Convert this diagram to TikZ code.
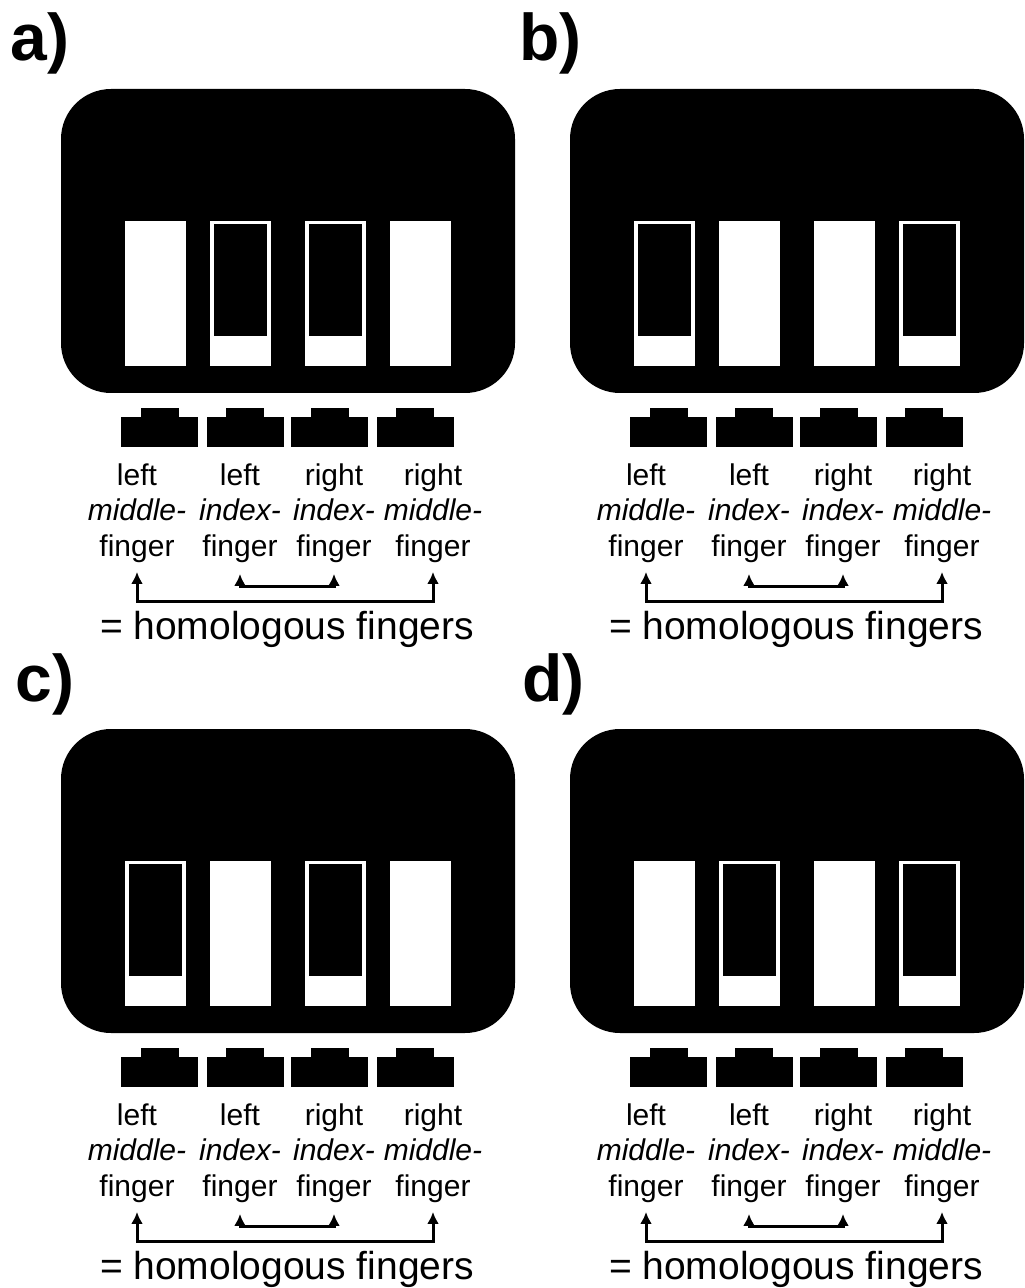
\documentclass[tikz,border=0pt]{standalone}
\usepackage{fontspec}
\setmainfont{Liberation Sans}
\usetikzlibrary{arrows.meta}

\begin{document}
\begin{tikzpicture}[x=0.5pt,y=-0.5pt,
  panellabel/.style={anchor=base west,inner sep=0pt,font=\fontsize{33}{33}\selectfont\bfseries},
  fingerlabel/.style={align=center,inner sep=0pt,anchor=north,font=\fontsize{15}{17.8}\selectfont},
  homlabel/.style={anchor=base,inner sep=0pt,font=\fontsize{19.5}{20}\selectfont},
  link/.style={line width=1.5pt,{Latex[length=6pt,width=6pt]}-{Latex[length=6pt,width=6pt]}}]
\useasboundingbox (0,0) rectangle (1024,1288);
% panel / x / y / label x / which bars are outlined
\foreach \p/\dx/\dy/\lx/\ba/\bb/\bc/\bd in {a/0/0/10/0/1/1/0,b/509/0/10/1/0/0/1,c/0/640/15/1/0/1/0,d/509/640/13/0/1/0/1}{
\begin{scope}[shift={(\dx,\dy)}]
\node[panellabel] (lbl\p) at (\lx,61) {\p)};
%% screen
\fill[black,rounded corners=25pt] (61,89) rectangle (515,393);
\foreach \bx/\on in {125/\ba,210/\bb,305/\bc,390/\bd}{
  \fill[white] (\bx,221) rectangle ++(61,145);
  \ifnum\on=1 \fill[black] (\bx+4,224) rectangle ++(53,112); \fi
}
%% keys
\foreach \kx in {159.5,245,329.5,415}{
  \fill[black] (\kx-38.5,417) rectangle ++(77,30);
  \fill[black] (\kx-19,408) rectangle ++(38,10);
}
%% fingers
\node[fingerlabel] (lm\p) at (137,463) {left\\\textit{middle-}\\finger};
\node[fingerlabel] (li\p) at (240,463) {left\\\textit{index-}\\finger};
\node[fingerlabel] (ri\p) at (334,463) {right\\\textit{index-}\\finger};
\node[fingerlabel] (rm\p) at (433,463) {right\\\textit{middle-}\\finger};
\node[homlabel] (hom\p) at (287,639) {= homologous fingers};
\draw[link] ([yshift=-4.5pt]lm\p.south) -- ++(0,-15pt) -| ([yshift=-4.5pt]rm\p.south);
\draw[link] ([yshift=-5.5pt]li\p.south) -- ++(0,-6.5pt) -| ([yshift=-5.5pt]ri\p.south);
\end{scope}}
\end{tikzpicture}
\end{document}
